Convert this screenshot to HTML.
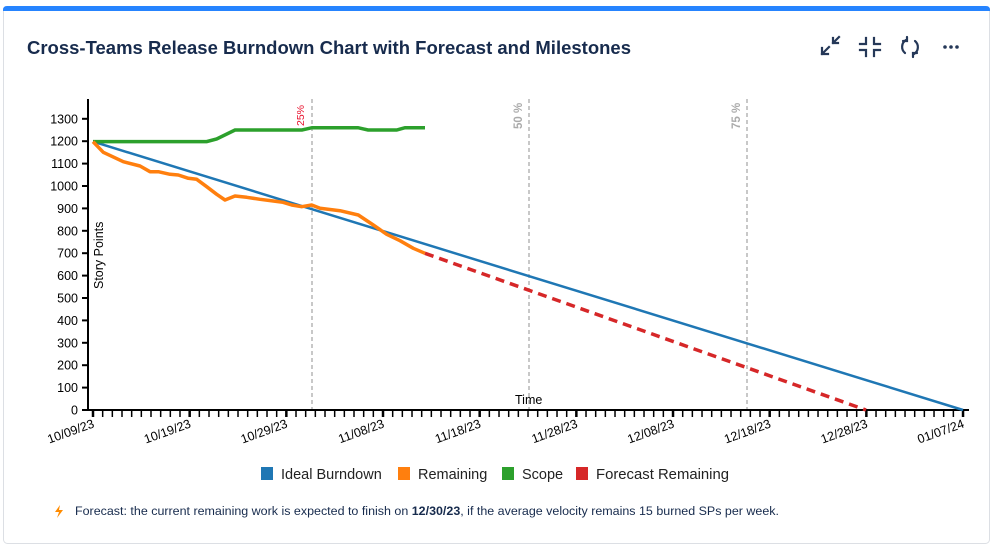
<!DOCTYPE html>
<html><head><meta charset="utf-8"><style>
html,body{margin:0;padding:0;background:#fff;width:995px;height:548px;overflow:hidden}
svg{display:block}
text{font-family:"Liberation Sans",sans-serif}
</style></head><body>
<svg width="995" height="548" viewBox="0 0 995 548" xmlns="http://www.w3.org/2000/svg">
<rect x="3.5" y="6.5" width="986" height="537" rx="4" fill="#fff" stroke="#dcdfe4"/>
<path d="M3 11 V10 Q3 6 7 6 H986 Q990 6 990 10 V11 Z" fill="#2684ff"/>
<text x="27" y="54" font-size="18.6" fill="#172b4d" font-weight="600" textLength="604" lengthAdjust="spacingAndGlyphs">Cross-Teams Release Burndown Chart with Forecast and Milestones</text>
<g stroke="#253858" stroke-width="2.2" fill="none" stroke-linecap="square">
<path d="M822 54 L829 47 M822 48 V54 H828 M833 43 L839 37 M833 38 V43 H838"/>
<path d="M866 38 V44 H860 M874 38 V44 H880 M866 56 V50 H860 M874 56 V50 H880"/>
<path d="M906 40 A8 8 0 0 0 905 53 M914 54 A8 8 0 0 0 915 41 M903 41 H907 V37 M917 53 H913 V57" stroke-linecap="round"/>
</g>
<g fill="#253858"><circle cx="945" cy="47" r="1.8"/><circle cx="951" cy="47" r="1.8"/><circle cx="957" cy="47" r="1.8"/></g>

<g stroke="#aaa" stroke-width="1.3" stroke-dasharray="4,3">
<line x1="312" y1="99" x2="312" y2="410"/><line x1="529" y1="99" x2="529" y2="410"/><line x1="747" y1="99" x2="747" y2="410"/>
</g>
<text transform="translate(304,126) rotate(-90)" font-size="10.5" fill="#e8112d">25%</text>
<text transform="translate(522,129) rotate(-90)" font-size="11.5" fill="#aaa" font-weight="bold">50 %</text>
<text transform="translate(740,129) rotate(-90)" font-size="11.5" fill="#aaa" font-weight="bold">75 %</text>

<g stroke="#000" stroke-width="2"><line x1="88" y1="99" x2="88" y2="411"/><line x1="87" y1="410" x2="969" y2="410"/></g>
<g font-size="12.5" fill="#000" text-anchor="end" id="yl"></g>
<g stroke="#000" stroke-width="2" id="yt"></g>
<g stroke="#000" stroke-width="1.5" id="xt"></g>
<g font-size="12.5" fill="#000" text-anchor="end" id="xl"></g>
<text transform="translate(103,289) rotate(-90)" font-size="12.5" fill="#000">Story Points</text>
<text x="515" y="404" font-size="12.5" fill="#000">Time</text>

<line x1="93" y1="141.6" x2="963" y2="410" stroke="#1f77b4" stroke-width="2.5"/>
<polyline fill="none" stroke="#2ca02c" stroke-width="3.5" points="93,141.6 206.7,141.6 216.7,139 235,130 302,130 312,127.7 358,127.7 368,130 396.7,130 405,127.7 425,127.7"/>
<polyline fill="none" stroke="#ff7f0e" stroke-width="3.5" stroke-linejoin="round" points="93,141.6 103.3,152.3 123.3,161.7 140,166 150,171.7 158.3,171.7 170,174.3 178.3,175 188.3,178.3 196.7,179.3 206.7,186.7 216.7,194.3 225,200 235,196 246.7,197.3 260,199.3 273.3,201 283,202.3 291.7,205 301.7,206.7 311.7,205 320,208.3 340,210.7 358.3,215 373.3,225 386.7,234.3 400,240.7 413.3,248.3 425,253.3"/>
<line x1="425" y1="253.3" x2="866" y2="410" stroke="#d62728" stroke-width="3.5" stroke-dasharray="9,6"/>

<rect x="261" y="467" width="12" height="13" fill="#1f77b4"/><text x="281" y="479" font-size="14.5" fill="#222">Ideal Burndown</text>
<rect x="398" y="467" width="12" height="13" fill="#ff7f0e"/><text x="418" y="479" font-size="14.5" fill="#222">Remaining</text>
<rect x="502" y="467" width="12" height="13" fill="#2ca02c"/><text x="522" y="479" font-size="14.5" fill="#222">Scope</text>
<rect x="576" y="467" width="12" height="13" fill="#d62728"/><text x="596" y="479" font-size="14.5" fill="#222" textLength="133" lengthAdjust="spacingAndGlyphs">Forecast Remaining</text>

<path d="M60 505 L55 512 H59 L57 518 L63 510 H59 Z" fill="#ff8b00"/>
<text x="75" y="515" font-size="12.4" fill="#172b4d" textLength="704" lengthAdjust="spacingAndGlyphs">Forecast: the current remaining work is expected to finish on <tspan font-weight="bold">12/30/23</tspan>, if the average velocity remains 15 burned SPs per week.</text>
</svg>
<script>
var ns="http://www.w3.org/2000/svg";
function el(p,t,a,txt){var e=document.createElementNS(ns,t);for(var k in a)e.setAttribute(k,a[k]);if(txt)e.textContent=txt;document.getElementById(p).appendChild(e);}
for(var v=0;v<=1300;v+=100){var y=410-v*0.224;el("yt","line",{x1:82,y1:y,x2:88,y2:y});el("yl","text",{x:78,y:y+4.5},""+v);}
for(var d=0;d<=90;d++){var x=93+d*9.667;el("xt","line",{x1:x,y1:410,x2:x,y2:417,"stroke-width":(d%10==0?2.5:1.5)});}
var labs=["10/09/23","10/19/23","10/29/23","11/08/23","11/18/23","11/28/23","12/08/23","12/18/23","12/28/23","01/07/24"];
for(var i=0;i<10;i++){var x=93+i*96.67;el("xl","text",{transform:"translate("+(x+2)+",427) rotate(-20)"},labs[i]);}
</script>
</body></html>
